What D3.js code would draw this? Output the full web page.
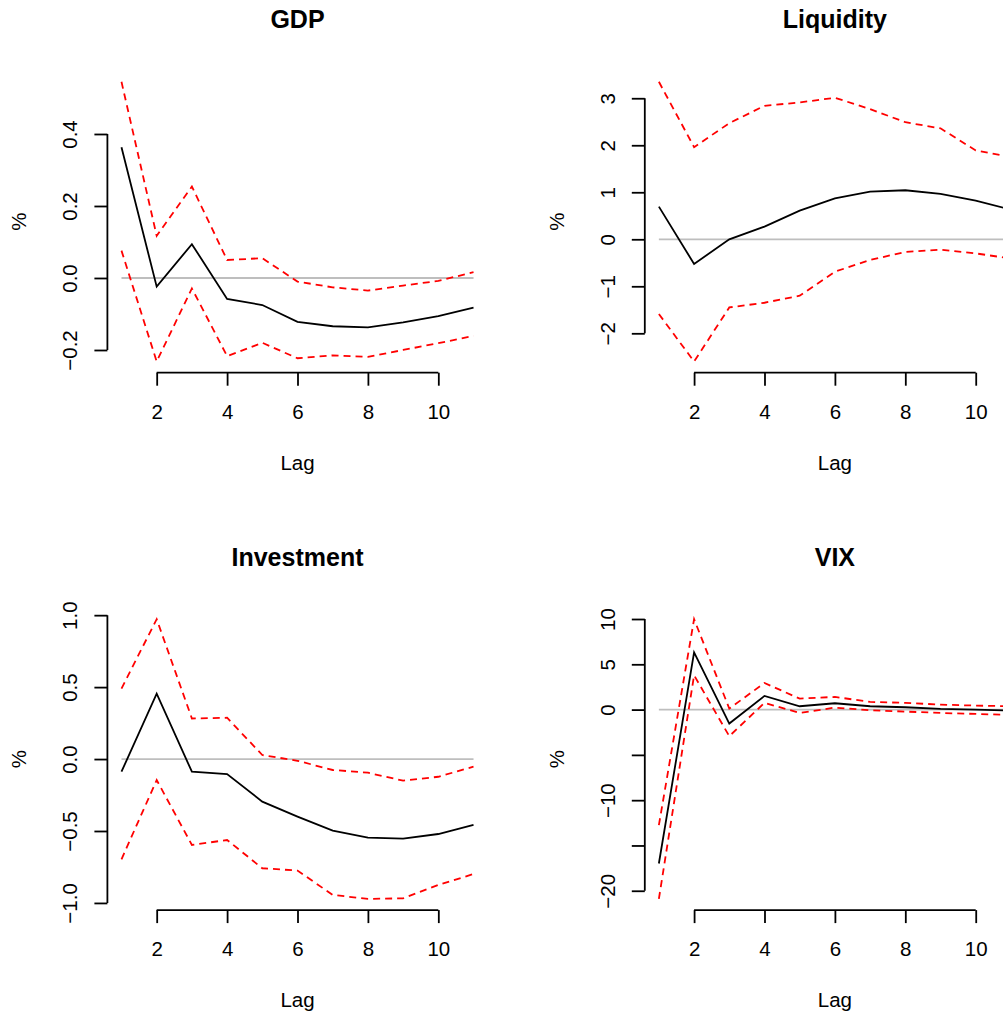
<!DOCTYPE html>
<html>
<head>
<meta charset="utf-8">
<script src="https://cdn.jsdelivr.net/npm/d3@7"></script>
<style>
    body { margin: 0; background: #fff; }
    svg { display: block; font-family: "Liberation Sans", Arial, Helvetica, sans-serif; }
</style>
</head>
<body>
<div id="chart"></div>
<script>
// impulse responses by lag (point estimate + upper/lower bands)
const lags = [1, 2, 3, 4, 5, 6, 7, 8, 9, 10, 11];
const xTicks = [2, 4, 6, 8, 10];

const gdpIrf   = [0.363, -0.024, 0.094, -0.058, -0.075, -0.122, -0.134, -0.137, -0.123, -0.106, -0.082];
const gdpUpper = [0.545, 0.117, 0.254, 0.050, 0.055, -0.010, -0.026, -0.035, -0.021, -0.008, 0.016];
const gdpLower = [0.076, -0.232, -0.029, -0.217, -0.180, -0.223, -0.215, -0.219, -0.200, -0.181, -0.161];
const gdpTicks = [-0.2, 0, 0.2, 0.4];

const liqIrf   = [0.695, -0.525, 0.0, 0.27, 0.61, 0.872, 1.014, 1.043, 0.965, 0.823, 0.63];
const liqUpper = [3.35, 1.96, 2.47, 2.84, 2.91, 3.01, 2.77, 2.49, 2.36, 1.89, 1.75];
const liqLower = [-1.59, -2.60, -1.45, -1.35, -1.20, -0.69, -0.44, -0.27, -0.22, -0.30, -0.41];
const liqTicks = [-2, -1, 0, 1, 2, 3];

const invIrf   = [-0.088, 0.454, -0.088, -0.104, -0.296, -0.40, -0.498, -0.546, -0.553, -0.521, -0.458];
const invUpper = [0.49, 0.972, 0.282, 0.287, 0.028, -0.012, -0.076, -0.095, -0.15, -0.123, -0.053];
const invLower = [-0.697, -0.146, -0.597, -0.5625, -0.759, -0.775, -0.944, -0.972, -0.968, -0.875, -0.799];
const invTicks = [-1, -0.5, 0, 0.5, 1];

const vixIrf   = [-16.99, 6.32, -1.54, 1.51, 0.37, 0.70, 0.37, 0.26, 0.07, 0.0, -0.1];
const vixUpper = [-12.76, 9.98, 0.11, 2.94, 1.21, 1.40, 0.85, 0.74, 0.55, 0.44, 0.37];
const vixLower = [-20.9, 3.79, -2.94, 0.74, -0.37, 0.22, -0.07, -0.22, -0.37, -0.48, -0.59];
const vixTicks = [-20, -15, -10, -5, 0, 5, 10];
const vixLabelled = [-20, -10, 0, 5, 10];

const panels = [
    { title: "GDP", irf: gdpIrf, upper: gdpUpper, lower: gdpLower, ticks: gdpTicks, labelled: gdpTicks, fmt: ".1f" },
    { title: "Liquidity", irf: liqIrf, upper: liqUpper, lower: liqLower, ticks: liqTicks, labelled: liqTicks, fmt: "d" },
    { title: "Investment", irf: invIrf, upper: invUpper, lower: invLower, ticks: invTicks, labelled: invTicks, fmt: ".1f" },
    { title: "VIX", irf: vixIrf, upper: vixUpper, lower: vixLower, ticks: vixTicks, labelled: vixLabelled, fmt: "d" }
];

const W = 1003, H = 1014;
const cell = 537.4;
const plot = { left: 107.4, top: 70.6, width: 380.2, height: 302.1 };

const svg = d3.select("#chart")
    .append("svg")
    .attr("width", W)
    .attr("height", H);

panels.forEach((p, i) => {
    const col = i % 2, row = Math.floor(i / 2);
    const g = svg.append("g")
        .attr("transform", `translate(${col * cell + plot.left},${row * cell + plot.top})`);

    // R style: 4% padding on each side of the data range
    const x = d3.scaleLinear().domain([0.6, 11.4]).range([0, plot.width]);
    const all = p.irf.concat(p.upper, p.lower);
    const [lo, hi] = d3.extent(all);
    const pad = (hi - lo) * 0.04;
    const y = d3.scaleLinear().domain([lo - pad, hi + pad]).range([plot.height, 0]);

    // zero line
    g.append("line")
        .attr("x1", x(lags[0]))
        .attr("x2", x(lags[lags.length - 1]))
        .attr("y1", y(0))
        .attr("y2", y(0))
        .attr("stroke", "#bebebe")
        .attr("stroke-width", 1.8);

    const line = d3.line()
        .x((d, j) => x(lags[j]))
        .y(d => y(d));

    [p.upper, p.lower].forEach(band => {
        g.append("path")
            .datum(band)
            .attr("d", line)
            .attr("fill", "none")
            .attr("stroke", "#ff0000")
            .attr("stroke-width", 1.8)
            .attr("stroke-dasharray", "7,5");
    });

    g.append("path")
        .datum(p.irf)
        .attr("d", line)
        .attr("fill", "none")
        .attr("stroke", "#000")
        .attr("stroke-width", 1.8);

    // x axis
    const xAxis = g.append("g")
        .attr("transform", `translate(0,${plot.height})`)
        .call(d3.axisBottom(x).tickValues(xTicks).tickSize(13).tickSizeOuter(0));
    xAxis.select(".domain").remove();
    xAxis.append("line")
        .attr("x1", x(xTicks[0]))
        .attr("x2", x(xTicks[xTicks.length - 1]))
        .attr("stroke", "#000");
    xAxis.selectAll("text")
        .attr("y", 46)
        .attr("dy", 0)
        .attr("fill", "#000")
        .style("font-size", "20.5px");

    // y axis
    const f = d3.format(p.fmt);
    const yAxis = g.append("g")
        .call(d3.axisLeft(y).tickValues(p.ticks).tickSize(13).tickSizeOuter(0)
            .tickFormat(d => p.labelled.includes(d) ? f(d) : ""));
    yAxis.select(".domain").remove();
    yAxis.append("line")
        .attr("y1", y(d3.min(p.ticks)))
        .attr("y2", y(d3.max(p.ticks)))
        .attr("stroke", "#000");
    yAxis.selectAll("text")
        .attr("transform", "rotate(-90)")
        .attr("x", 0)
        .attr("y", -30)
        .attr("dy", 0)
        .attr("text-anchor", "middle")
        .attr("fill", "#000")
        .style("font-size", "20.5px");

    g.selectAll(".tick line").attr("stroke", "#000");
    g.selectAll("line").attr("stroke-width", 1.8);
    g.selectAll(".tick line").attr("stroke-width", 1.8);

    // titles
    g.append("text")
        .attr("x", plot.width / 2)
        .attr("y", -42.3)
        .attr("text-anchor", "middle")
        .style("font-size", "25px")
        .style("font-weight", "bold")
        .text(p.title);

    g.append("text")
        .attr("x", plot.width / 2)
        .attr("y", plot.height + 97.3)
        .attr("text-anchor", "middle")
        .style("font-size", "20.5px")
        .text("Lag");

    g.append("text")
        .attr("transform", `translate(-81,${plot.height / 2}) rotate(-90)`)
        .attr("text-anchor", "middle")
        .style("font-size", "20.5px")
        .text("%");
});
</script>
</body>
</html>
